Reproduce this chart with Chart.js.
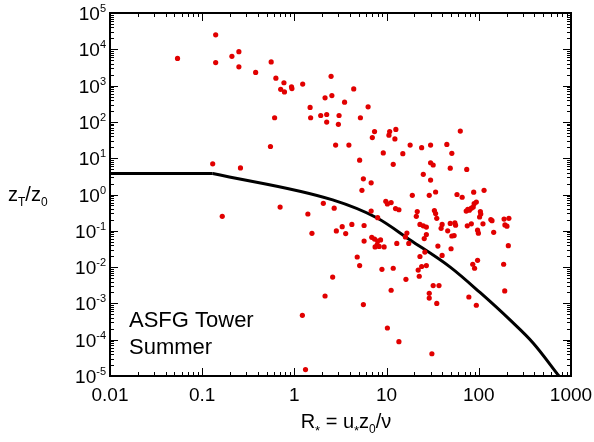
<!DOCTYPE html>
<html>
<head>
<meta charset="utf-8">
<script src="https://cdn.jsdelivr.net/npm/chart.js@4.4.1/dist/chart.umd.min.js"></script>
<style>
  html, body { margin: 0; padding: 0; background: #fff; }
</style>
</head>
<body>
<canvas id="chart" width="594" height="442"></canvas>
<script>
// measured points (R*, zT/z0)
const pointsX = [0.054, 0.14, 0.14, 0.21, 0.25, 0.25, 0.38, 0.56, 0.63, 0.77, 0.71, 0.78, 0.93, 0.94, 1.23, 0.61, 0.55, 0.13, 0.26,
  2.5, 2.15, 2.55, 3.5, 4.4, 1.48, 1.5, 1.93, 2.24, 2.24, 3.05, 3.0, 6.3, 5.2, 7.4, 7.0, 10.8, 10.6, 12.6, 12.3,
  2.8, 3.9, 18, 24, 30, 45, 63, 51, 9.2, 5.1, 15, 11.8, 30, 32, 49, 74, 25, 30, 5.6, 6.8, 5.4,
  19, 29, 34, 58, 66, 88, 114,
  2.06, 2.7, 1.4, 1.55, 2.85, 3.3, 3.6, 4.2, 5.7, 5.7, 4.8, 5.1, 6.8, 8.0, 9.8, 10.2, 11.2, 12.5, 13.6,
  21.5, 21, 23, 25, 27, 16.6, 16, 17.4, 27, 25.6, 33, 34, 35,
  6.9, 7.4, 8.0, 8.6, 7.9, 8.3, 9.4, 7.5, 12.9,
  40, 39, 46, 49, 55, 56, 51, 54, 73, 76, 83, 87, 79, 89, 94, 104, 105, 102, 75, 83, 97, 99, 111,
  135, 139, 145, 188, 212, 192, 202, 209, 36, 40, 50, 86, 90, 97, 186, 191,
  32, 37, 29, 29, 35, 78, 94, 31, 23, 24, 22, 27, 22.6,
  2.6, 2.15, 1.22, 1.32, 5.6, 8.9, 11.8, 11.2, 16.2, 10.2, 13.6, 0.165, 0.7, 26];
const pointsY = [5600, 25000, 4300, 6400, 8600, 3300, 2300, 4500, 1600, 1200, 790, 670, 930, 830, 1100, 130, 21, 7.0, 5.4,
  1800, 460, 530, 350, 810, 250, 130, 150, 160, 99, 150, 86, 260, 130, 54, 37, 54, 43, 62, 34,
  23, 23, 23, 19.5, 23, 24, 56, 13.6, 14, 8.8, 13.3, 6.8, 7.5, 6.5, 5.3, 4.9, 3.6, 2.5, 2.7, 2.1, 1.3,
  0.95, 0.95, 1.17, 1.0, 0.84, 1.16, 1.3,
  0.57, 0.42, 0.29, 0.085, 0.099, 0.13, 0.084, 0.15, 0.14, 0.052, 0.019, 0.011, 0.35, 0.23, 0.65, 0.55, 0.6, 0.41, 0.38,
  0.34, 0.25, 0.15, 0.137, 0.127, 0.087, 0.068, 0.045, 0.079, 0.061, 0.36, 0.30, 0.22,
  0.066, 0.059, 0.052, 0.056, 0.041, 0.037, 0.036, 0.036, 0.045,
  0.15, 0.117, 0.10, 0.16, 0.166, 0.143, 0.072, 0.074, 0.35, 0.39, 0.42, 0.45, 0.37, 0.56, 0.62, 0.34, 0.29, 0.24, 0.137, 0.156, 0.104, 0.086, 0.156,
  0.205, 0.19, 0.091, 0.21, 0.22, 0.145, 0.134, 0.039, 0.038, 0.021, 0.032, 0.012, 0.0093, 0.0154, 0.012, 0.0022,
  0.0031, 0.0031, 0.0019, 0.0014, 0.001, 0.0015, 0.00089, 0.000041, 0.0196, 0.0104, 0.0083, 0.011, 0.0056,
  0.0053, 0.0016, 0.00047, 0.000015, 0.00093, 0.0087, 0.0093, 0.0023, 0.0046, 0.00021, 0.000088, 0.25, 0.45, 0.026];

// model curve: flat part, then the falling part
const flatX = [0.01, 0.13];
const flatY = [3.8, 3.8];
const curveX = [0.13, 2.6, 7.9, 18, 49, 103, 218, 390, 740];
const curveY = [3.8, 0.71, 0.225, 0.056, 0.01, 0.002, 0.00035, 0.00008, 0.00001];

// axes
const xTicks = [0.01, 0.1, 1, 10, 100, 1000];
const xTickLabels = ['0.01', '0.1', '1', '10', '100', '1000'];
const yTickExps = [-5, -4, -3, -2, -1, 0, 1, 2, 3, 4, 5];

const FONT = '"Liberation Sans", Arial, Helvetica, sans-serif';

// draws text pieces [text, size, dy] starting at x
function drawPieces(ctx, pieces, x, y, align) {
  let total = 0;
  pieces.forEach(p => { ctx.font = p[1] + 'px ' + FONT; total += ctx.measureText(p[0]).width; });
  let cx = align === 'right' ? x - total : align === 'center' ? x - total / 2 : x;
  ctx.textAlign = 'left';
  pieces.forEach(p => {
    ctx.font = p[1] + 'px ' + FONT;
    ctx.fillText(p[0], cx, y + p[2]);
    cx += ctx.measureText(p[0]).width;
  });
}

const framePlugin = {
  id: 'frame',
  afterDraw(chart) {
    const { ctx, chartArea: a, scales: { x, y } } = chart;
    ctx.save();
    ctx.strokeStyle = '#000';
    ctx.fillStyle = '#000';

    // ticks pointing inward on all four sides
    ctx.lineWidth = 1;
    ctx.beginPath();
    for (let d = -2; d < 3; d++) {
      for (let k = 1; k < 10; k++) {
        const px = Math.round(x.getPixelForValue(k * Math.pow(10, d))) + 0.5;
        const len = k === 1 ? 8 : 4;
        ctx.moveTo(px, a.bottom); ctx.lineTo(px, a.bottom - len);
        ctx.moveTo(px, a.top); ctx.lineTo(px, a.top + len);
      }
    }
    for (let d = -5; d < 5; d++) {
      for (let k = 1; k < 10; k++) {
        const py = Math.round(y.getPixelForValue(k * Math.pow(10, d))) + 0.5;
        const len = k === 1 ? 8 : 4;
        ctx.moveTo(a.left, py); ctx.lineTo(a.left + len, py);
        ctx.moveTo(a.right, py); ctx.lineTo(a.right - len, py);
      }
    }
    ctx.stroke();

    ctx.lineWidth = 2;
    ctx.strokeRect(a.left, a.top, a.right - a.left, a.bottom - a.top);

    // x tick labels
    ctx.textBaseline = 'alphabetic';
    ctx.font = '19px ' + FONT;
    ctx.textAlign = 'center';
    xTicks.forEach((v, i) => {
      ctx.fillText(xTickLabels[i], x.getPixelForValue(v), a.bottom + 25);
    });

    // y tick labels 10^n
    yTickExps.forEach(e => {
      const py = y.getPixelForValue(Math.pow(10, e));
      drawPieces(ctx, [['10', 19, 0], [String(e), 11, -8]], a.left - 4, py + 7, 'right');
    });

    // axis titles
    drawPieces(ctx, [['z', 20, 0], ['T', 12, 5], ['/z', 20, 0], ['0', 12, 5]], 8, 201, 'left');
    drawPieces(ctx, [['R', 20, 0], ['*', 13, 7], [' = u', 20, 0], ['*', 13, 7], ['z', 20, 0], ['0', 12, 5], ['/\u03bd', 20, 0]],
      346, 428, 'center');

    // annotation
    ctx.font = '22px ' + FONT;
    ctx.textAlign = 'left';
    ctx.fillText('ASFG Tower', 129, 327);
    ctx.fillText('Summer', 129, 354);
    ctx.restore();
  }
};

const lineStyle = {
  type: 'line',
  borderColor: '#000',
  borderWidth: 3,
  pointRadius: 0,
  fill: false
};

new Chart(document.getElementById('chart'), {
  type: 'scatter',
  data: {
    datasets: [
      {
        label: 'data',
        data: pointsX.map((v, i) => ({ x: v, y: pointsY[i] })),
        backgroundColor: 'rgb(225,0,0)',
        borderWidth: 0,
        pointRadius: 2.6,
        pointHoverRadius: 2.6
      },
      Object.assign({ label: 'flat', data: flatX.map((v, i) => ({ x: v, y: flatY[i] })), tension: 0 }, lineStyle),
      Object.assign({ label: 'model', data: curveX.map((v, i) => ({ x: v, y: curveY[i] })), cubicInterpolationMode: 'monotone' }, lineStyle)
    ]
  },
  options: {
    responsive: false,
    animation: false,
    devicePixelRatio: 1,
    layout: { padding: { left: 110, right: 23, top: 13, bottom: 66 } },
    plugins: { legend: { display: false }, tooltip: { enabled: false } },
    scales: {
      x: { type: 'logarithmic', min: 0.01, max: 1000, display: false },
      y: { type: 'logarithmic', min: 0.00001, max: 100000, display: false }
    }
  },
  plugins: [framePlugin]
});
</script>
</body>
</html>
